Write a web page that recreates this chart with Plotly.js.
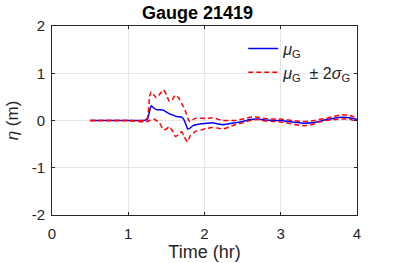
<!DOCTYPE html>
<html><head><meta charset="utf-8">
<script src="https://cdn.plot.ly/plotly-3.0.1.min.js"></script>
<style>html,body{margin:0;padding:0;background:#fff}#plot{width:395px;height:263px}</style>
</head><body><div id="plot"></div>
<script>
var timeHr = [0.5,1.0,1.2,1.25,1.28,1.30,1.33,1.37,1.41,1.46,1.50,1.54,1.58,1.62,1.66,1.70,1.73,1.76,1.78,1.81,1.85,1.89,1.95,2.02,2.1,2.17,2.24,2.32,2.4,2.5,2.6,2.7,2.8,2.9,3.0,3.1,3.2,3.3,3.4,3.5,3.6,3.7,3.8,3.9,4.0];
var meanEta = [0,0,0,0.02,0.2,0.31,0.27,0.23,0.23,0.22,0.18,0.14,0.12,0.09,0.08,0.07,0.02,-0.1,-0.18,-0.16,-0.11,-0.09,-0.07,-0.06,-0.05,-0.07,-0.09,-0.07,-0.05,-0.02,0.02,0.03,0.01,0.0,0.0,-0.02,-0.04,-0.06,-0.05,-0.02,0.02,0.05,0.07,0.06,0.02];
var upperEta = [0,0,0,0.05,0.5,0.61,0.55,0.48,0.55,0.65,0.55,0.40,0.45,0.54,0.48,0.36,0.28,0.15,0.05,-0.03,0.02,0.05,0.05,0.04,0.06,0.03,0.0,0.0,0.0,0.03,0.07,0.07,0.04,0.03,0.03,0.01,-0.01,-0.02,-0.01,0.02,0.05,0.09,0.12,0.11,0.05];
var lowerEta = [0,0,-0.03,-0.02,0.0,0.02,0.03,0.0,-0.05,-0.2,-0.18,-0.13,-0.22,-0.34,-0.3,-0.24,-0.32,-0.42,-0.45,-0.33,-0.27,-0.22,-0.2,-0.17,-0.15,-0.16,-0.18,-0.14,-0.09,-0.05,0.0,0.02,-0.01,-0.02,-0.03,-0.06,-0.09,-0.11,-0.09,-0.03,0.0,0.02,0.03,0.03,-0.03];
var xTicks = [0,1,2,3,4];
var yTicks = [-2,-1,0,1,2];

var FONT = 'Liberation Sans, Arial, sans-serif';
var traces = [
  {x: timeHr, y: meanEta, mode: 'lines', name: '<i>μ</i><sub>G</sub>',
   line: {color: '#0000ff', width: 1.5, shape: 'spline', smoothing: 0.5}},
  {x: timeHr, y: upperEta, mode: 'lines', name: '<i>μ</i><sub>G</sub>  ± 2<i>σ</i><sub>G</sub>',
   line: {color: '#ff0000', width: 1.5, dash: '5px,3px', shape: 'spline', smoothing: 0.5}},
  {x: timeHr, y: lowerEta, mode: 'lines', showlegend: false,
   line: {color: '#ff0000', width: 1.5, dash: '5px,3px', shape: 'spline', smoothing: 0.5}}
];
var axisCommon = {
  showline: true, linecolor: '#262626', linewidth: 1, mirror: 'ticks',
  ticks: 'inside', ticklen: 3, tickcolor: '#262626',
  showgrid: true, gridcolor: '#e6e6e6', gridwidth: 1, zeroline: false,
  tickfont: {family: FONT, size: 15, color: '#262626'}
};
var layout = {
  width: 395, height: 263,
  margin: {l: 52, r: 38, t: 26, b: 48},
  paper_bgcolor: '#fff', plot_bgcolor: '#fff',
  title: {text: '<b>Gauge 21419</b>', x: 0.5, xanchor: 'center', y: 0.952, yanchor: 'middle',
          font: {family: FONT, size: 18, color: '#000'}},
  xaxis: Object.assign({}, axisCommon, {range: [0, 4], tickvals: xTicks, ticktext: xTicks.map(String),
    ticklabelstandoff: 5,
    title: {text: 'Time (hr)', standoff: 2, font: {family: FONT, size: 18, color: '#262626'}}}),
  yaxis: Object.assign({}, axisCommon, {range: [-2, 2], tickvals: yTicks, ticktext: yTicks.map(String),
    ticklabelstandoff: 3,
    title: {text: '<i>η</i> (m)', standoff: 8, font: {family: FONT, size: 17, color: '#262626'}}}),
  legend: {x: 0.627, y: 0.97, xanchor: 'left', yanchor: 'top', bgcolor: 'rgba(0,0,0,0)',
           itemwidth: 30, font: {family: FONT, size: 16, color: '#262626'}},
  showlegend: true
};
Plotly.newPlot('plot', traces, layout, {displayModeBar: false, staticPlot: true});
</script></body></html>
